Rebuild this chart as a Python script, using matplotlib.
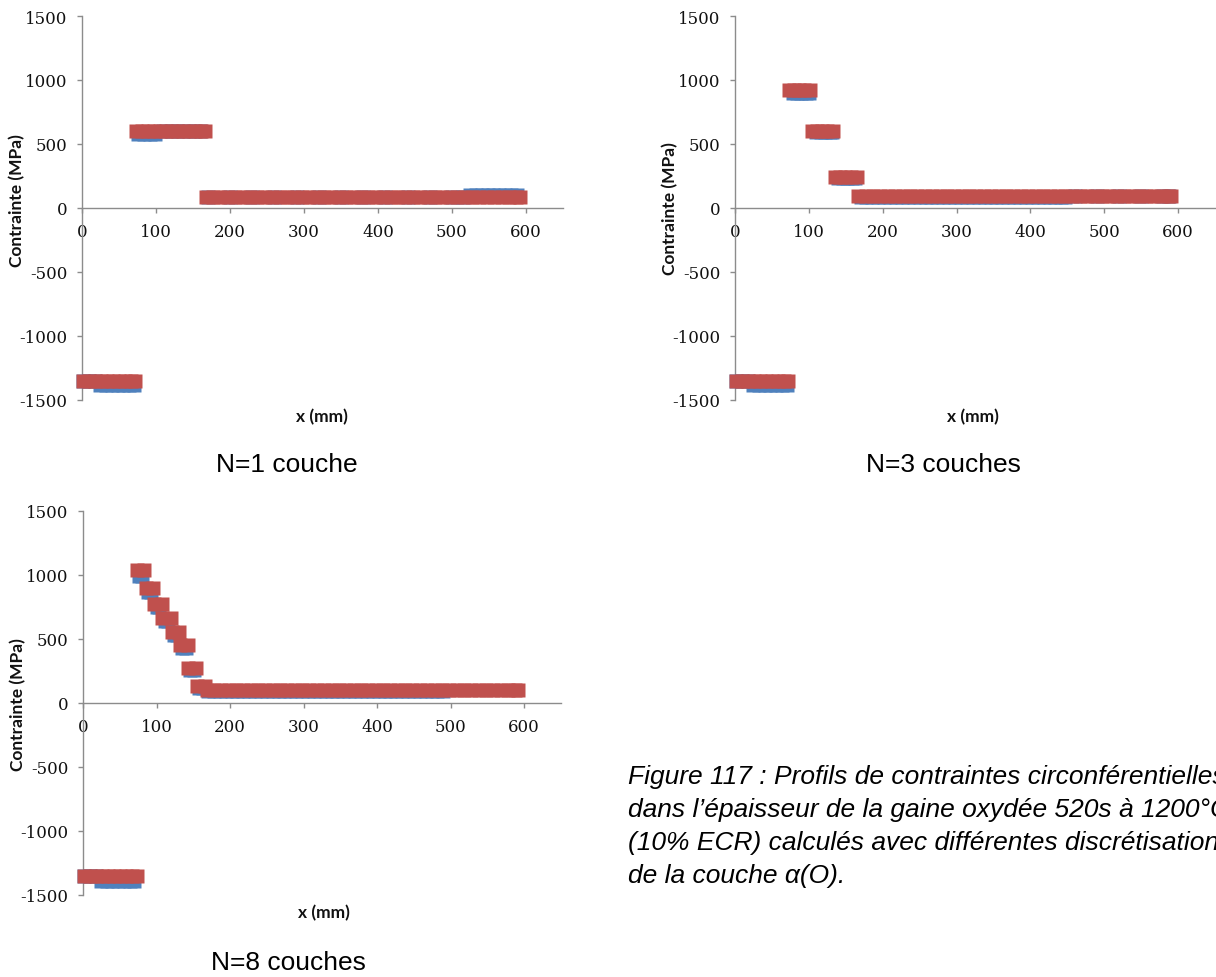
import matplotlib
matplotlib.use("Agg")
import matplotlib.pyplot as plt

plt.rcParams["axes.unicode_minus"] = False

W, H = 1216, 978

# ---------------- data (x in mm, stress in MPa) ----------------
# N=1 couche
n1_red_x = [[2, 10, 18, 26, 34, 42, 50, 58, 66, 72],
            [73, 81, 89, 97, 105, 113, 121, 129, 137, 145, 153, 161, 166],
            [167, 177, 187, 197, 207, 217, 227, 237, 247, 257, 267, 277, 287, 297, 307,
             317, 327, 337, 347, 357, 367, 377, 387, 397, 407, 417, 427, 437, 447, 457,
             467, 477, 487, 497, 507, 517, 527, 537, 547, 557, 567, 577, 587, 592]]
n1_red_y = [-1350, 600, 88]
n1_blue_x = [[2, 10, 18], [24, 32, 40, 48, 56, 64, 70],
             [76, 84, 92, 99], [110, 120, 130, 140, 150, 160],
             [170, 200, 230, 260, 290, 320, 350, 380, 410, 440, 470, 500, 515],
             [524, 532, 540, 548, 556, 564, 572, 580, 588]]
n1_blue_y = [-1350, -1385, 578, 598, 88, 100]

# N=3 couches
n3_red_x = [[2, 10, 18, 26, 34, 42, 50, 58, 66, 72],
            [73, 80, 87, 94, 102],
            [104, 111, 118, 125, 133],
            [135, 142, 149, 157, 165],
            [167, 177, 187, 197, 207, 217, 227, 237, 247, 257, 267, 277, 287, 297, 307,
             317, 327, 337, 347, 357, 367, 377, 387, 397, 407, 417, 427, 437, 447, 457,
             467, 477, 487, 497, 507, 517, 527, 537, 547, 557, 567, 577, 587, 590]]
n3_red_y = [-1350, 922, 605, 241, 91]
n3_blue_x = [[2, 10, 18], [24, 32, 40, 48, 56, 64, 70],
             [78, 84, 90, 96, 100], [110, 116, 122, 128, 132], [140, 146, 152, 158, 162],
             [170, 178, 186, 194, 202, 210, 218, 226, 234, 242, 250, 258, 266, 274, 282,
              290, 298, 306, 314, 322, 330, 338, 346, 354, 362, 370, 378, 386, 394, 402,
              410, 418, 426, 434, 442, 447],
             [460, 490, 520, 550, 580, 588]]
n3_blue_y = [-1350, -1385, 902, 592, 233, 85, 91]

# N=8 couches
n8_red_x = [[2, 10, 18, 26, 34, 42, 50, 58, 66, 73],
            [73, 83], [85, 95], [97, 107], [108, 119], [121, 130],
            [132, 143], [143, 154], [155, 166],
            [168, 178, 188, 198, 208, 218, 228, 238, 248, 258, 268, 278, 288, 298, 308,
             318, 328, 338, 348, 358, 368, 378, 388, 398, 408, 418, 428, 438, 448, 458,
             468, 478, 488, 498, 508, 518, 528, 538, 548, 558, 568, 578, 588, 591]]
n8_red_y = [-1355, 1038, 900, 776, 665, 554, 451, 271, 131, 100]
n8_blue_x = [[2, 10, 18], [24, 32, 40, 48, 56, 64, 70],
             [76, 80], [88, 92], [100, 104], [111, 116], [124, 128],
             [135, 140], [146, 151], [158, 163],
             [170, 178, 186, 194, 202, 210, 218, 226, 234, 242, 250, 258, 266, 274, 282,
              290, 298, 306, 314, 322, 330, 338, 346, 354, 362, 370, 378, 386, 394, 402,
              410, 418, 426, 434, 442, 450, 458, 466, 474, 482, 490]]
n8_blue_y = [-1355, -1390, 995, 868, 752, 640, 532, 428, 255, 115, 95]

x_ticks = [0, 100, 200, 300, 400, 500, 600]
y_ticks = [-1500, -1000, -500, 0, 500, 1000, 1500]

panel_titles = ["N=1 couche", "N=3 couches", "N=8 couches"]
caption_lines = ["Figure 117 : Profils de contraintes circonférentielles",
                 "dans l’épaisseur de la gaine oxydée 520s à 1200°C",
                 "(10% ECR) calculés avec différentes discrétisations",
                 "de la couche α(O)."]

RED = "#C0504D"
BLUE = "#4F81BD"
GRAY = "#8C8C8C"

fig = plt.figure(figsize=(W / 100, H / 100), dpi=100)


def px_axes(left, top, right, bottom):
    return fig.add_axes([left / W, 1 - bottom / H, (right - left) / W, (bottom - top) / H])


def ftext(x, y, s, **kw):
    fig.text(x / W, 1 - y / H, s, **kw)


def draw_panel(ax, red_x, red_y, blue_x, blue_y):
    for xs, yv in zip(blue_x, blue_y):
        ax.plot(xs, [yv] * len(xs), ls="none", marker="s", ms=9.4, mec="none",
                color=BLUE, clip_on=False, zorder=3)
    for xs, yv in zip(red_x, red_y):
        ax.plot(xs, [yv] * len(xs), ls="none", marker="s", ms=9.4, mec="none",
                color=RED, clip_on=False, zorder=4)
    ax.set_xlim(0, 650)
    ax.set_ylim(-1500, 1500)
    ax.set_xticks(x_ticks)
    ax.set_yticks(y_ticks)
    ax.spines["top"].set_visible(False)
    ax.spines["right"].set_visible(False)
    ax.spines["bottom"].set_position(("data", 0))
    for sp in ("left", "bottom"):
        ax.spines[sp].set_color(GRAY)
        ax.spines[sp].set_linewidth(1.0)
    ax.tick_params(axis="both", direction="out", length=3.6, width=1.0, color=GRAY,
                   labelsize=12, labelcolor="#111111")
    ax.tick_params(axis="y", pad=7)
    ax.tick_params(axis="x", pad=7.5)
    for lab in ax.get_xticklabels() + ax.get_yticklabels():
        lab.set_fontfamily("DejaVu Serif")
    ax.patch.set_alpha(0)


ax1 = px_axes(82, 17, 563, 401)
draw_panel(ax1, n1_red_x, n1_red_y, n1_blue_x, n1_blue_y)
ax2 = px_axes(735, 17, 1215, 401)
draw_panel(ax2, n3_red_x, n3_red_y, n3_blue_x, n3_blue_y)
ax3 = px_axes(83, 512, 561, 896)
draw_panel(ax3, n8_red_x, n8_red_y, n8_blue_x, n8_blue_y)

lab_kw = dict(fontfamily="Lato", fontweight="bold", fontsize=12.5, color="#111111",
              ha="center", va="center")
ftext(17, 201, "Contrainte (MPa)", rotation=90, **lab_kw)
ftext(670, 209, "Contrainte (MPa)", rotation=90, **lab_kw)
ftext(18, 705, "Contrainte (MPa)", rotation=90, **lab_kw)
ftext(322, 417, "x (mm)", **lab_kw)
ftext(973, 417, "x (mm)", **lab_kw)
ftext(324, 913, "x (mm)", **lab_kw)

tkw = dict(fontfamily="Liberation Sans", fontsize=19, color="black", ha="center", va="center")
ftext(287, 465, panel_titles[0], **tkw)
ftext(943, 465, panel_titles[1], **tkw)
ftext(288, 963, panel_titles[2], **tkw)

ckw = dict(fontfamily="Liberation Sans", fontstyle="italic", fontsize=19,
           color="black", ha="left", va="center")
for i, line in enumerate(caption_lines):
    ftext(628, 777 + 33 * i, line, **ckw)

fig.savefig("out.png", dpi=100)
